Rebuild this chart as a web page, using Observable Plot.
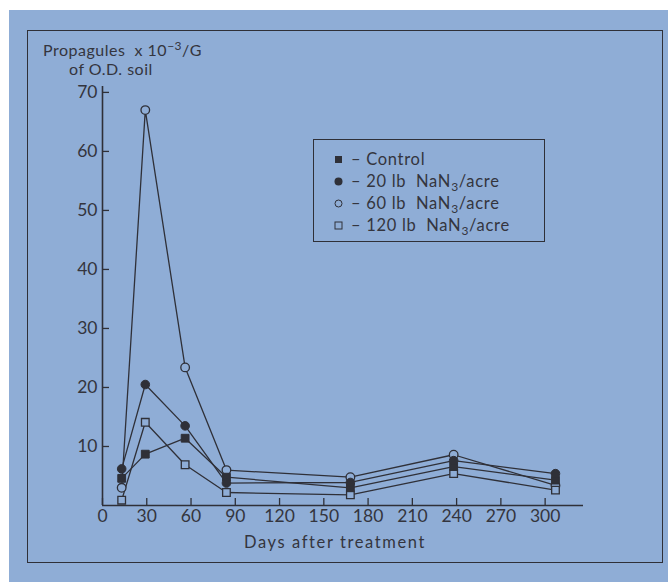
<!DOCTYPE html>
<html>
<head>
<meta charset="utf-8">
<script src="https://cdn.jsdelivr.net/npm/d3@7"></script>
<script src="https://cdn.jsdelivr.net/npm/@observablehq/plot@0.6"></script>
<style>
  html, body { margin: 0; padding: 0; background: #ffffff; }
  #wrap { position: relative; width: 668px; height: 582px; overflow: hidden;
          font-family: Lato, "Open Sans", sans-serif; color: #34353e; }
  #bg { position: absolute; left: 9px; top: 10px; right: 0; bottom: 0; background: #8fadd6; }
  #frame { position: absolute; left: 27px; top: 30px; width: 636px; height: 533px;
           border: 1.5px solid #2f3038; box-sizing: border-box; }
  #chart { position: absolute; left: 0; top: 0; }
  .ylab { position: absolute; font-size: 16px; letter-spacing: 0.5px; white-space: nowrap; }
  #legend { position: absolute; left: 313px; top: 139px; width: 232px; height: 103px;
            border: 1.5px solid #2f3038; box-sizing: border-box; font-size: 16.5px;
            letter-spacing: 0.7px; padding-top: 8px; }
  .row { position: relative; height: 22px; line-height: 22px; white-space: nowrap; padding-left: 37px; }
  .row svg { position: absolute; left: 20px; top: 7px; }
  sub { font-size: 12px; vertical-align: -4px; line-height: 0; }
  sup { font-size: 12px; vertical-align: 6px; line-height: 0; }
</style>
</head>
<body>
<div id="wrap">
  <div id="bg"></div>
  <div id="frame"></div>
  <div id="chart"></div>
  <div class="ylab" style="left:43px; top:40px;">Propagules&nbsp; x 10<sup>−3</sup>/G</div>
  <div class="ylab" style="left:69px; top:59px;">of O.D. soil</div>
  <div id="legend"></div>
</div>
<script>
// ---- data ----
const days    = [13, 29, 56, 84, 168, 238, 307];
const control = [4.6, 8.7, 11.4, 4.8, 3.0, 6.6, 4.3];
const lb20    = [6.2, 20.5, 13.5, 3.8, 3.9, 7.6, 5.4];
const lb60    = [3.0, 67.0, 23.4, 6.0, 4.8, 8.6, 3.4];
const lb120   = [0.9, 14.1, 6.9, 2.2, 1.8, 5.4, 2.6];
const seriesNames = ["Control", "20 lb", "60 lb", "120 lb"];
const xTicks = [0, 30, 60, 90, 120, 150, 180, 210, 240, 270, 300];
const yTicks = [10, 20, 30, 40, 50, 60, 70];
const xLabel = "Days after treatment";

const ink = "#2f3038";
const bg = "#8fadd6";

const allSeries = [control, lb20, lb60, lb120];
const rows = [];
allSeries.forEach((vals, i) => vals.forEach((v, j) => rows.push({series: seriesNames[i], day: days[j], value: v})));

const chart = Plot.plot({
  width: 668,
  height: 582,
  marginLeft: 102,
  marginRight: 85,
  marginTop: 86,
  marginBottom: 77,
  style: {background: "transparent", fontFamily: "Lato, 'Open Sans', sans-serif", fontSize: "17.5px", color: "#34353e", overflow: "visible"},
  x: {domain: [0, 326]},
  y: {domain: [0, 71]},
  marks: [
    Plot.axisX({ticks: xTicks, tickSize: -7, tickPadding: 11, label: null, stroke: ink, fill: "#34353e", strokeWidth: 1.3, tickFormat: d => String(d)}),
    Plot.axisY({ticks: yTicks, tickSize: -7, tickPadding: 12, label: null, stroke: ink, fill: "#34353e", strokeWidth: 1.3}),
    Plot.ruleX([0], {y1: 0, y2: 71, stroke: ink, strokeWidth: 1.6}),
    Plot.ruleY([0], {x1: 0, x2: 326, stroke: ink, strokeWidth: 1.6}),
    Plot.line(rows, {x: "day", y: "value", z: "series", stroke: ink, strokeWidth: 1.3}),
    Plot.dot(rows.filter(d => d.series === "60 lb"), {x: "day", y: "value", symbol: "circle", r: 4.3, fill: bg, stroke: ink, strokeWidth: 1.3}),
    Plot.dot(rows.filter(d => d.series === "120 lb"), {x: "day", y: "value", symbol: "square", r: 4.3, fill: bg, stroke: ink, strokeWidth: 1.3}),
    Plot.dot(rows.filter(d => d.series === "Control"), {x: "day", y: "value", symbol: "square", r: 4.4, fill: ink, stroke: ink, strokeWidth: 1}),
    Plot.dot(rows.filter(d => d.series === "20 lb"), {x: "day", y: "value", symbol: "circle", r: 4.3, fill: ink, stroke: ink, strokeWidth: 1})
  ]
});
document.getElementById("chart").appendChild(chart);

// x axis title as real text under the axis
const xt = document.createElement("div");
xt.textContent = xLabel;
Object.assign(xt.style, {position: "absolute", left: "244px", top: "532px", fontSize: "16.5px", letterSpacing: "1.6px", whiteSpace: "nowrap"});
document.getElementById("wrap").appendChild(xt);

// legend
const glyphs = {
  "Control": `<svg width="9" height="9"><rect x="1" y="1" width="7" height="7" fill="${ink}"/></svg>`,
  "20 lb": `<svg width="9" height="9"><circle cx="4.5" cy="4.5" r="4" fill="${ink}"/></svg>`,
  "60 lb": `<svg width="9" height="9"><circle cx="4.5" cy="4.5" r="3.5" fill="none" stroke="${ink}" stroke-width="1"/></svg>`,
  "120 lb": `<svg width="9" height="9"><rect x="1" y="1" width="7" height="7" fill="none" stroke="${ink}" stroke-width="1"/></svg>`
};
const legend = document.getElementById("legend");
seriesNames.forEach(name => {
  const row = document.createElement("div");
  row.className = "row";
  const label = name === "Control" ? "– Control" : `– ${name}&nbsp; NaN<sub>3</sub>/acre`;
  row.innerHTML = glyphs[name] + label;
  legend.appendChild(row);
});
</script>
</body>
</html>
